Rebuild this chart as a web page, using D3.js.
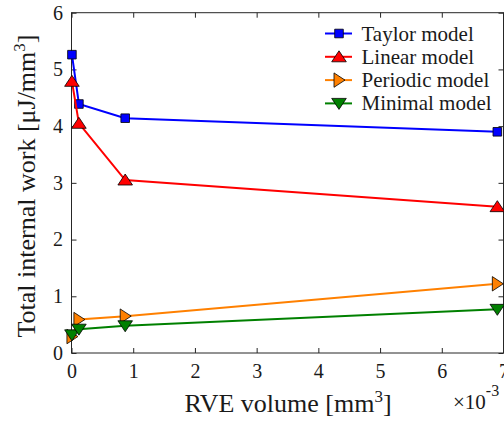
<!DOCTYPE html>
<html lang="en">
<head>
<meta charset="utf-8">
<script src="https://cdn.jsdelivr.net/npm/d3@7"></script>
</head>
<body style="margin:0">
<div id="chart"></div>
<script>
// RVE volume (x 10^-3 mm^3)
const volumes = [0.007, 0.12, 0.87, 6.9];
const taylor = [5.26, 4.39, 4.14, 3.90];
const linear = [4.79, 4.05, 3.05, 2.58];
const periodic = [0.29, 0.59, 0.65, 1.22];
const minimal = [0.32, 0.42, 0.48, 0.77];
const xTicks = [0, 1, 2, 3, 4, 5, 6, 7];
const yTicks = [0, 1, 2, 3, 4, 5, 6];

const seriesList = [
  { name: "Taylor model", values: taylor, color: "#0000ff", marker: "square" },
  { name: "Linear model", values: linear, color: "#ff0000", marker: "up" },
  { name: "Periodic model", values: periodic, color: "#ff8000", marker: "right" },
  { name: "Minimal model", values: minimal, color: "#008000", marker: "down" }
];

const width = 504, height = 421;
const svg = d3.select("#chart").append("svg")
  .attr("width", width)
  .attr("height", height);

const x = d3.scaleLinear().domain([0, 7]).range([71.5, 503.5]);
const y = d3.scaleLinear().domain([0, 6]).range([353, 12.7]);

// plot box
const axisColor = "#262626";
svg.append("rect")
  .attr("x", x(0)).attr("y", y(6))
  .attr("width", x(7) - x(0)).attr("height", y(0) - y(6))
  .attr("fill", "none").attr("stroke", axisColor).attr("stroke-width", 1);

// axes with inward ticks
const fmt = d3.format("d");
const xAxis = svg.append("g")
  .attr("transform", `translate(0,${y(0)})`)
  .call(d3.axisBottom(x).tickValues(xTicks).tickFormat(fmt).tickSizeInner(-5).tickSizeOuter(0).tickPadding(11));
const xTop = svg.append("g")
  .attr("transform", `translate(0,${y(6)})`)
  .call(d3.axisTop(x).tickValues(xTicks).tickSizeInner(-5).tickSizeOuter(0).tickFormat(""));
const yAxis = svg.append("g")
  .attr("transform", `translate(${x(0)},0)`)
  .call(d3.axisLeft(y).tickValues(yTicks).tickFormat(fmt).tickSizeInner(-5).tickSizeOuter(0).tickPadding(8.5));
const yRight = svg.append("g")
  .attr("transform", `translate(${x(7)},0)`)
  .call(d3.axisRight(y).tickValues(yTicks).tickSizeInner(-5).tickSizeOuter(0).tickFormat(""));

[xAxis, xTop, yAxis, yRight].forEach(g => {
  g.select(".domain").remove();
  g.selectAll("line").attr("stroke", axisColor);
  g.selectAll("text").style("font-size", "20px");
});

// marker shapes
function markerPath(type, s) {
  if (type === "square") return `M${-s},${-s}H${s}V${s}H${-s}Z`;
  if (type === "up") return `M0,${-6}L7.3,5L-7.3,5Z`;
  if (type === "down") return `M0,6L7.3,-5L-7.3,-5Z`;
  if (type === "right") return `M6,0L-5,7.2L-5,-7.2Z`;
}

const line = d3.line().x(d => x(d[0])).y(d => y(d[1]));

seriesList.forEach(s => {
  const pts = volumes.map((v, i) => [v, s.values[i]]);
  const g = svg.append("g");
  g.append("path")
    .datum(pts)
    .attr("d", line)
    .attr("fill", "none")
    .attr("stroke", s.color)
    .attr("stroke-width", 2);
  g.selectAll("path.mk")
    .data(pts)
    .enter().append("path")
    .attr("class", "mk")
    .attr("transform", d => `translate(${x(d[0])},${y(d[1])})`)
    .attr("d", markerPath(s.marker, 4.3))
    .attr("fill", s.color)
    .attr("stroke", "#000")
    .attr("stroke-width", 0.8);
});

// legend
const legend = svg.append("g").attr("transform", "translate(325,33.5)");
seriesList.forEach((s, i) => {
  const row = legend.append("g").attr("transform", `translate(0,${i * 23.3})`);
  row.append("line")
    .attr("x1", 0).attr("x2", 27).attr("y1", 0).attr("y2", 0)
    .attr("stroke", s.color).attr("stroke-width", 2);
  row.append("path")
    .attr("transform", "translate(14,0)")
    .attr("d", markerPath(s.marker, 4.3))
    .attr("fill", s.color).attr("stroke", "#000").attr("stroke-width", 0.8);
  row.append("text")
    .attr("x", 36.5).attr("y", 7)
    .style("font-size", "21px")
    .text(s.name);
});

// axis labels
const xLabel = svg.append("text")
  .attr("x", 288).attr("y", 412)
  .attr("text-anchor", "middle")
  .style("font-size", "26px");
xLabel.append("tspan").text("RVE volume [mm");
xLabel.append("tspan").attr("dy", -10).style("font-size", "17px").text("3");
xLabel.append("tspan").attr("dy", 10).text("]");

const yLabel = svg.append("text")
  .attr("transform", "translate(35,186) rotate(-90)")
  .attr("text-anchor", "middle")
  .style("font-size", "26px");
yLabel.append("tspan").text("Total internal work [μJ/mm");
yLabel.append("tspan").attr("dy", -10).style("font-size", "17px").text("3");
yLabel.append("tspan").attr("dy", 10).text("]");

// exponent note
const expo = svg.append("text")
  .attr("x", 453).attr("y", 409)
  .style("font-size", "21px");
expo.append("tspan").text("×10");
expo.append("tspan").attr("dy", -13).style("font-size", "16px").text("-3");

// serif font on every label
svg.selectAll("text").style("font-family", '"Liberation Serif"').attr("fill", "#1a1a1a");
</script>
</body>
</html>
